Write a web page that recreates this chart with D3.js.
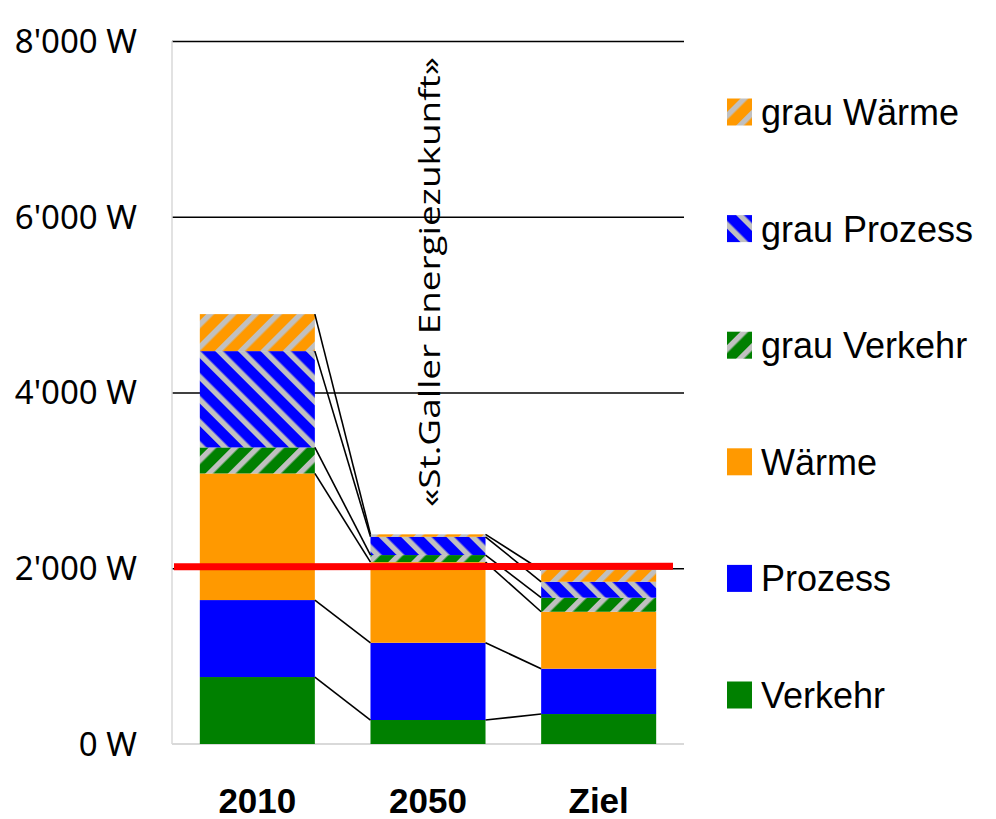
<!DOCTYPE html>
<html>
<head>
<meta charset="utf-8">
<script src="https://cdn.jsdelivr.net/npm/d3@7"></script>
<style>
  html, body { margin: 0; padding: 0; background: #fff; }
  svg { display: block; }
</style>
</head>
<body>
<svg id="chart" width="996" height="819"></svg>
<script>
// values in watts per person
var categories = ['2010', '2050', 'Ziel']
var keys = ['Verkehr', 'Prozess', 'Wärme', 'grau Verkehr', 'grau Prozess', 'grau Wärme']
var verkehr = [762, 273, 341]
var prozess = [876, 879, 516]
var waerme = [1441, 918, 648]
var grauVerkehr = [296, 80, 160]
var grauProzess = [1096, 208, 181]
var grauWaerme = [421, 28, 134]
var yTicks = [0, 2000, 4000, 6000, 8000]
var target = 2000
var note = '«St.Galler Energiezukunft»'

;(function() {
  var rows = categories.map(function(c, i) {
    return {
      cat: c,
      'Verkehr': verkehr[i],
      'Prozess': prozess[i],
      'Wärme': waerme[i],
      'grau Verkehr': grauVerkehr[i],
      'grau Prozess': grauProzess[i],
      'grau Wärme': grauWaerme[i]
    }
  })

  var fills = {
    'Verkehr': '#008000',
    'Prozess': '#0000ff',
    'Wärme': '#ff9900',
    'grau Verkehr': 'url(#hatch-green)',
    'grau Prozess': 'url(#hatch-blue)',
    'grau Wärme': 'url(#hatch-orange)'
  }

  var svg = d3.select('#chart')
  var x0 = 172, x1 = 684, yTop = 41, yBottom = 744

  var x = d3.scaleBand().domain(categories).range([x0, x1])
    .paddingInner(0.326).paddingOuter(0.163)
  var y = d3.scaleLinear().domain([0, 8000]).range([yBottom, yTop])

  var fmt = d3.formatLocale({decimal: '.', thousands: "'", grouping: [3], currency: ['', '']}).format(',')

  // hatch patterns
  var defs = svg.append('defs')
  function hatch(id, color, angle) {
    var p = defs.append('pattern').attr('id', id)
      .attr('patternUnits', 'userSpaceOnUse')
      .attr('width', 16).attr('height', 16)
      .attr('patternTransform', 'rotate(' + angle + ')')
    p.append('rect').attr('width', 16).attr('height', 16).attr('fill', color)
    p.append('rect').attr('x', 0).attr('width', 5.5).attr('height', 16).attr('fill', '#c0c0c0')
  }
  hatch('hatch-orange', '#ff9900', 45)
  hatch('hatch-blue', '#0000ff', -45)
  hatch('hatch-green', '#008000', 45)

  // gridlines
  svg.append('g').selectAll('line').data(yTicks.filter(function(d) { return d > 0 })).enter()
    .append('line')
    .attr('x1', x0).attr('x2', x1)
    .attr('y1', function(d) { return y(d) + 0.5 }).attr('y2', function(d) { return y(d) + 0.5 })
    .attr('stroke', '#000').attr('stroke-width', 1.3)

  // axis lines
  svg.append('line').attr('x1', x0).attr('x2', x0).attr('y1', yTop).attr('y2', yBottom)
    .attr('stroke', '#d9d9d9').attr('stroke-width', 1.5)
  svg.append('line').attr('x1', x0).attr('x2', x1).attr('y1', yBottom).attr('y2', yBottom)
    .attr('stroke', '#d9d9d9').attr('stroke-width', 2)

  // y labels
  svg.append('g').selectAll('text').data(yTicks).enter()
    .append('text')
    .attr('x', 137).attr('y', function(d) { return y(d) })
    .attr('dy', '0.36em')
    .attr('text-anchor', 'end')
    .attr('font-family', 'Noto Sans, sans-serif')
    .attr('font-size', 33)
    .text(function(d) { return fmt(d) + ' W' })

  // stacked bars
  var stacked = d3.stack().keys(keys)(rows)

  svg.append('g').selectAll('g').data(stacked).enter()
    .append('g')
    .attr('fill', function(s) { return fills[s.key] })
    .selectAll('rect').data(function(s) { return s }).enter()
    .append('rect')
    .attr('x', function(d) { return x(d.data.cat) })
    .attr('width', x.bandwidth())
    .attr('y', function(d) { return y(d[1]) })
    .attr('height', function(d) { return y(d[0]) - y(d[1]) })

  // connector lines between bars
  var links = []
  stacked.forEach(function(s) {
    for (var i = 0; i < s.length - 1; i++) {
      links.push({
        x1: x(s[i].data.cat) + x.bandwidth(), y1: y(s[i][1]),
        x2: x(s[i + 1].data.cat), y2: y(s[i + 1][1])
      })
    }
  })
  svg.append('g').selectAll('line').data(links).enter()
    .append('line')
    .attr('x1', function(d) { return d.x1 }).attr('y1', function(d) { return d.y1 })
    .attr('x2', function(d) { return d.x2 }).attr('y2', function(d) { return d.y2 })
    .attr('stroke', '#000').attr('stroke-width', 1.6)

  // target line
  svg.append('line')
    .attr('x1', x0 + 2).attr('x2', 673)
    .attr('y1', y(target) - 1.5).attr('y2', y(target) - 2)
    .attr('stroke', '#ff0000').attr('stroke-width', 7)

  // vertical note
  svg.append('text')
    .attr('transform', 'translate(440,282) rotate(-90)')
    .attr('text-anchor', 'middle')
    .attr('font-family', 'Open Sans, sans-serif')
    .attr('font-size', 29)
    .attr('textLength', 450)
    .attr('lengthAdjust', 'spacingAndGlyphs')
    .text(note)

  // x labels
  svg.append('g').selectAll('text').data(categories).enter()
    .append('text')
    .attr('x', function(d) { return x(d) + x.bandwidth() / 2 })
    .attr('y', 813)
    .attr('text-anchor', 'middle')
    .attr('font-family', 'Liberation Sans, Arial, sans-serif')
    .attr('font-weight', 'bold')
    .attr('font-size', 35)
    .text(function(d) { return d })

  // legend
  var legendKeys = keys.slice().reverse()
  var lg = svg.append('g').selectAll('g').data(legendKeys).enter()
    .append('g')
    .attr('transform', function(d, i) { return 'translate(727,' + (112 + i * 116.6) + ')' })
  lg.append('rect')
    .attr('x', 0).attr('y', -13.5).attr('width', 25).attr('height', 27)
    .attr('fill', function(d) { return fills[d] })
  lg.append('text')
    .attr('x', 34).attr('y', 13)
    .attr('font-family', 'Liberation Sans, Arial, sans-serif')
    .attr('font-size', 36)
    .text(function(d) { return d })
})()
</script>
</body>
</html>
